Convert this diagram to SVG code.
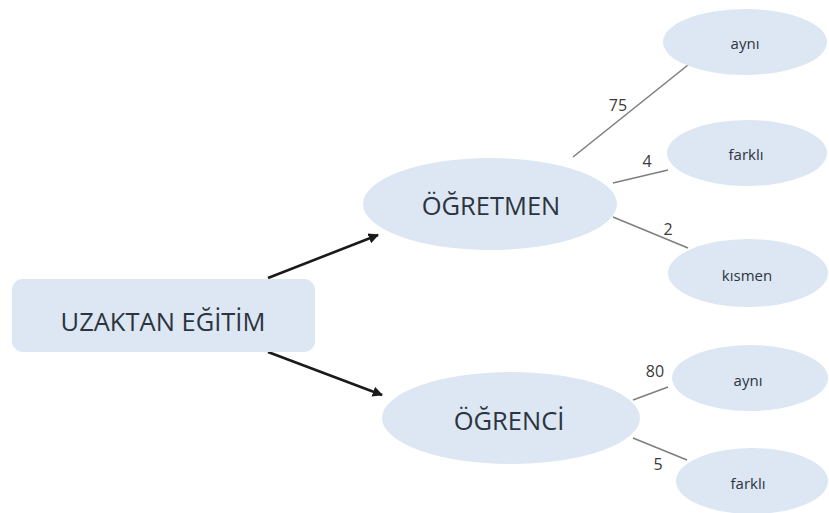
<svg xmlns="http://www.w3.org/2000/svg" width="829" height="513" viewBox="0 0 829 513">
<style>
.n{fill:#dce7f3;stroke:none}
.t{font-family:"Open Sans","Liberation Sans",sans-serif;fill:#2c3440;text-anchor:middle;dominant-baseline:central}
.big{font-size:25.5px}
.sm{font-size:15px}
.lbl{font-family:"Open Sans","Liberation Sans",sans-serif;fill:#3a3a3a;font-size:16px;text-anchor:middle;dominant-baseline:central}
.e{stroke:#7f7f7f;stroke-width:1.6;fill:none}
.a{stroke:#1a1a1a;stroke-width:2.6;fill:none;marker-end:url(#ah)}
</style>
<defs>
<marker id="ah" viewBox="0 0 10 10" refX="9" refY="5" markerWidth="4" markerHeight="4" orient="auto" markerUnits="strokeWidth">
<path d="M0,0 L10,5 L0,10 z" fill="#1a1a1a"/>
</marker>
</defs>
<rect width="829" height="513" fill="#ffffff"/>
<g id="connectors">
<line class="a" x1="268" y1="278" x2="378" y2="235"/>
<line class="a" x1="268" y1="352" x2="382" y2="395"/>
<line class="e" x1="573" y1="157" x2="688" y2="65"/>
<line class="e" x1="613" y1="183" x2="668" y2="170"/>
<line class="e" x1="613" y1="217" x2="688" y2="248"/>
<line class="e" x1="633" y1="400" x2="668" y2="387"/>
<line class="e" x1="633" y1="438" x2="687" y2="460"/>
<text class="lbl" x="618" y="105">75</text>
<text class="lbl" x="647" y="161">4</text>
<text class="lbl" x="668" y="229">2</text>
<text class="lbl" x="655" y="371">80</text>
<text class="lbl" x="658" y="464">5</text>
</g>
<g id="uzaktan">
<rect class="n" x="12" y="279" width="303" height="73" rx="11"/>
<text class="t big" x="163" y="321">UZAKTAN EĞİTİM</text>
</g>
<g id="ogretmen">
<ellipse class="n" cx="490" cy="204" rx="127" ry="46"/>
<text class="t big" x="491" y="205">ÖĞRETMEN</text>
</g>
<g id="ogrenci">
<ellipse class="n" cx="511" cy="418" rx="129" ry="46"/>
<text class="t big" x="509" y="420">ÖĞRENCİ</text>
</g>
<g id="ogretmen-ayni">
<ellipse class="n" cx="745" cy="42" rx="82" ry="33"/>
<text class="t sm" x="745" y="43">aynı</text>
</g>
<g id="ogretmen-farkli">
<ellipse class="n" cx="747" cy="153" rx="80" ry="33"/>
<text class="t sm" x="746" y="154">farklı</text>
</g>
<g id="ogretmen-kismen">
<ellipse class="n" cx="748" cy="273" rx="80" ry="34"/>
<text class="t sm" x="747" y="275">kısmen</text>
</g>
<g id="ogrenci-ayni">
<ellipse class="n" cx="750" cy="378" rx="78" ry="33"/>
<text class="t sm" x="748" y="380">aynı</text>
</g>
<g id="ogrenci-farkli">
<ellipse class="n" cx="752" cy="481" rx="76" ry="33"/>
<text class="t sm" x="748" y="483">farklı</text>
</g>
</svg>
